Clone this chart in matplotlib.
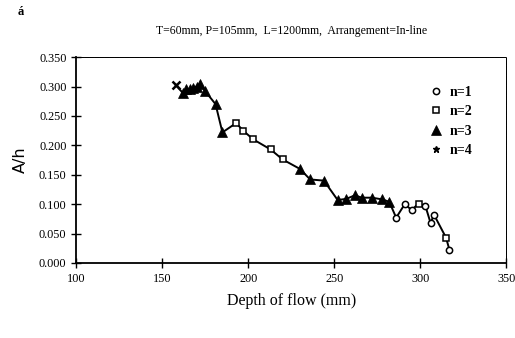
import numpy as np
import matplotlib.pyplot as plt

# -----------------------------
# DATA
# -----------------------------

depth = [158, 162, 164, 166, 168, 170, 172, 175, 181, 185,
         193, 197, 203, 213, 220, 230, 236, 244, 252, 257,
         262, 266, 272, 278, 282, 286, 291, 295, 299, 303,
         306, 308, 315, 317]

a_over_h = [0.302, 0.289, 0.296, 0.295, 0.298, 0.300, 0.304, 0.292, 0.270, 0.222,
            0.238, 0.225, 0.210, 0.193, 0.176, 0.160, 0.142, 0.140, 0.107, 0.109,
            0.115, 0.111, 0.111, 0.108, 0.104, 0.077, 0.100, 0.090, 0.101, 0.097,
            0.068, 0.082, 0.043, 0.022]

n_group = [4, 3, 3, 3, 3, 3, 3, 3, 3, 3,
           2, 2, 2, 2, 2, 3, 3, 3, 3, 3,
           3, 3, 3, 3, 3, 1, 1, 1, 2, 1,
           1, 1, 2, 1]

legend_labels = ["n=1", "n=2", "n=3", "n=4"]
title_text = "T=60mm, P=105mm,  L=1200mm,  Arrangement=In-line"

# -----------------------------
# PLOT
# -----------------------------

plt.rcParams['font.family'] = ['Liberation Serif', 'DejaVu Serif']

fig = plt.figure(figsize=(5.15, 3.38), dpi=100)
ax = fig.add_axes([0.148, 0.222, 0.835, 0.609])

ax.plot(depth, a_over_h, color="black", lw=1.4, zorder=2)

depth = np.array(depth)
a_over_h = np.array(a_over_h)
n_group = np.array(n_group)

styles = {
    1: dict(marker="o", ms=4.5, mfc="white", mec="black", mew=1.1),
    2: dict(marker="s", ms=5, mfc="white", mec="black", mew=1.1),
    3: dict(marker="^", ms=6.5, mfc="black", mec="black", mew=0.5),
    4: dict(marker="x", ms=5.5, mfc="black", mec="black", mew=1.8),
}

for n, lab in zip([1, 2, 3, 4], legend_labels):
    sel = n_group == n
    ax.plot(depth[sel], a_over_h[sel], ls="none", label=lab, zorder=3, **styles[n])

# legend markers (n=4 shown as a small asterisk)
handles, labels = ax.get_legend_handles_labels()
handles[3] = plt.Line2D([], [], ls="none", marker="*", ms=5, color="black")
ax.legend(handles, labels, loc="upper right", bbox_to_anchor=(0.95, 0.92),
          frameon=False, handletextpad=0.4, labelspacing=0.45,
          handlelength=1.2, prop={"weight": "bold", "size": 10})

ax.set_xlim(100, 350)
ax.set_ylim(0, 0.35)
ax.set_xticks([100, 150, 200, 250, 300, 350])
ax.set_yticks(np.arange(0, 0.351, 0.05))
ax.set_yticklabels([f"{v:.3f}" for v in np.arange(0, 0.351, 0.05)])

ax.tick_params(direction="inout", length=7, width=1, labelsize=8.8)

ax.spines["left"].set_linewidth(1.3)
ax.spines["bottom"].set_linewidth(1.3)
ax.spines["top"].set_linewidth(0.6)
ax.spines["right"].set_linewidth(0.6)
ax.spines["top"].set_linestyle((0, (1, 0.5)))
ax.spines["right"].set_linestyle((0, (1, 0.5)))

ax.set_xlabel("Depth of flow (mm)", fontsize=11.5, labelpad=6)
ax.set_ylabel("A/h", fontsize=11.5, family=["DejaVu Sans"], labelpad=8)
ax.set_title(title_text, fontsize=8.5, pad=17)

fig.text(0.035, 0.955, "á", fontsize=9, fontweight="bold")

fig.savefig("out.png", dpi=100)
